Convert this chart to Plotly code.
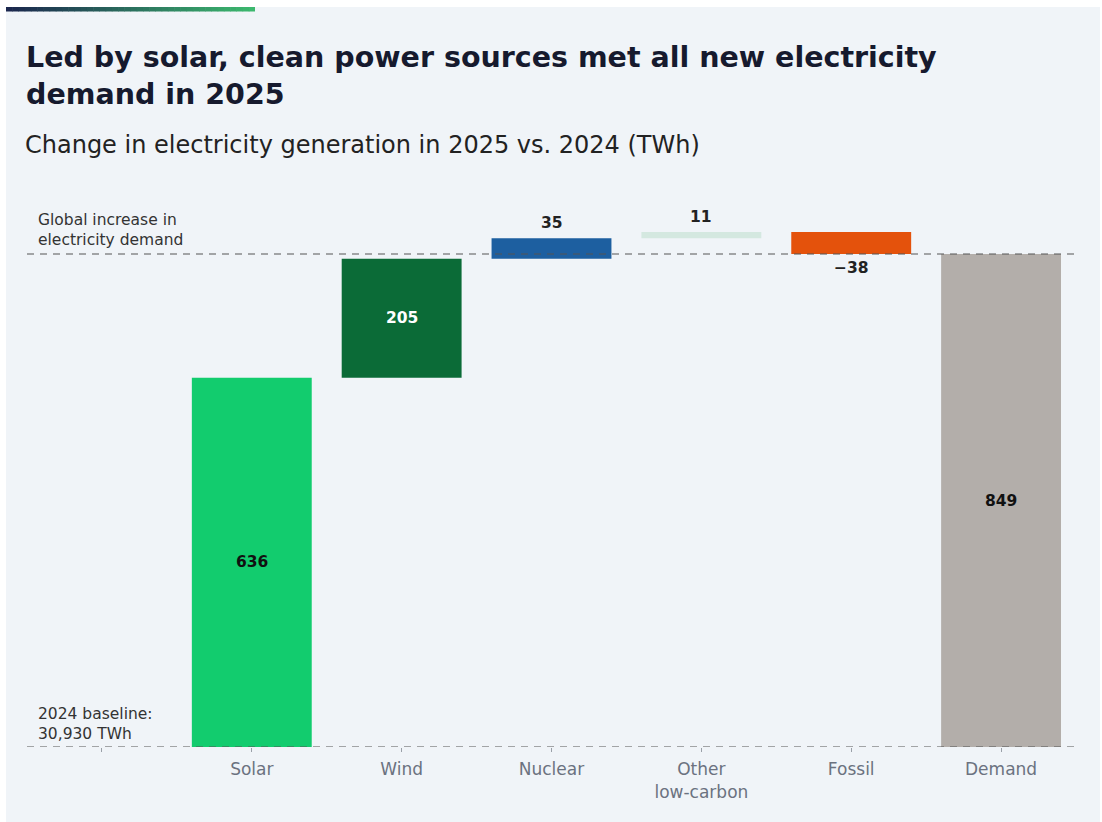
import plotly.graph_objects as go

# ---- data ----
categories = ["Solar", "Wind", "Nuclear", "Other<br>low-carbon", "Fossil", "Demand"]
changes = [636, 205, 35, 11, -38, 849]
is_total = [False, False, False, False, False, True]
bar_colors = ["#12CC6E", "#0B6B37", "#1D5FA0", "#D4E8E0", "#E4520C", "#B3AEAA"]
label_colors = ["#111111", "#FFFFFF", "#222222", "#222222", "#222222", "#111111"]
label_pos = ["inside", "inside", "above", "above", "below", "inside"]
baseline_text = "2024 baseline:<br>30,930 TWh"
demand_text = "Global increase in<br>electricity demand"

# ---- layout geometry (pixels) ----
W, H = 1102, 822
ML, MR, MT, MB = 27, 26, 200, 75
PW, PH = W - ML - MR, H - MT - MB
YMAX = 942

def px(x):
    return (x - ML) / PW

def py(y):
    return (H - MB - y) / PH

# compute bases
bases, heights = [], []
run = 0
for v, tot in zip(changes, is_total):
    if tot:
        bases.append(0)
        heights.append(v)
    else:
        if v >= 0:
            bases.append(run)
            heights.append(v)
        else:
            bases.append(run + v)
            heights.append(-v)
        run += v

xs = list(range(1, len(categories) + 1))

fig = go.Figure()
fig.add_trace(go.Bar(
    x=xs, y=heights, base=bases, width=0.8,
    marker=dict(color=bar_colors, line=dict(width=0)),
    hoverinfo="skip", showlegend=False,
))

LBL_FONT = "DejaVu Sans"
annotations = []
for x, b, h, v, c, pos in zip(xs, bases, heights, changes, label_colors, label_pos):
    txt = f"{v:,}".replace("-", "\u2212") if v < 0 else f"{v:,}"
    f = dict(size=15.5, color=c, family=LBL_FONT)
    if pos == "inside":
        annotations.append(dict(x=x, y=b + h / 2, text=f"<b>{txt}</b>", showarrow=False,
                                font=f, xref="x", yref="y"))
    elif pos == "above":
        annotations.append(dict(x=x, y=b + h, text=f"<b>{txt}</b>", showarrow=False,
                                yanchor="bottom", yshift=4, font=f, xref="x", yref="y"))
    else:
        annotations.append(dict(x=x, y=b, text=f"<b>{txt}</b>", showarrow=False,
                                yanchor="top", yshift=-3, font=f, xref="x", yref="y"))

total = changes[-1]
annotations += [
    dict(x=px(36), y=total, xref="paper", yref="y", xanchor="left", yanchor="bottom",
         yshift=3, align="left", showarrow=False, text=demand_text,
         font=dict(size=15.5, color="#333333", family="DejaVu Sans")),
    dict(x=px(36), y=0, xref="paper", yref="y", xanchor="left", yanchor="bottom",
         yshift=2, align="left", showarrow=False, text=baseline_text,
         font=dict(size=15.5, color="#333333", family="DejaVu Sans")),
    dict(x=px(24), y=py(76), xref="paper", yref="paper", xanchor="left", yanchor="middle",
         align="left", showarrow=False,
         text="<b>Led by solar, clean power sources met all new electricity<br>demand in 2025</b>",
         font=dict(size=28.5, color="#161A2E", family="DejaVu Sans")),
    dict(x=px(23), y=py(145), xref="paper", yref="paper", xanchor="left", yanchor="middle",
         align="left", showarrow=False,
         text="Change in electricity generation in 2025 vs. 2024 (TWh)",
         font=dict(size=24, color="#222222", family="DejaVu Sans")),
]

shapes = [
    # white outer border
    dict(type="rect", xref="paper", yref="paper", x0=px(0), x1=px(6), y0=py(822), y1=py(0),
         fillcolor="white", line=dict(width=0), layer="below"),
    dict(type="rect", xref="paper", yref="paper", x0=px(0), x1=px(1102), y0=py(7), y1=py(0),
         fillcolor="white", line=dict(width=0), layer="below"),
    dict(type="rect", xref="paper", yref="paper", x0=px(1100), x1=px(1102), y0=py(822), y1=py(0),
         fillcolor="white", line=dict(width=0), layer="below"),
    # dashed reference lines
    dict(type="line", xref="paper", yref="y", x0=0, x1=1, y0=total, y1=total,
         line=dict(color="#555555", width=1.2, dash="7px,6px"), layer="above"),
    dict(type="line", xref="paper", yref="y", x0=0, x1=1, y0=0, y1=0,
         line=dict(color="#555555", width=1.2, dash="7px,6px"), layer="above"),
]

# gradient accent bar at top
n = 40
c0 = (0x1B, 0x27, 0x4E)
c1 = (0x3C, 0xB8, 0x6E)
x_start, x_end = 6, 255
for i in range(n):
    t = i / (n - 1)
    col = "rgb(%d,%d,%d)" % tuple(int(a + (b - a) * t) for a, b in zip(c0, c1))
    xa = x_start + (x_end - x_start) * i / n
    xb = x_start + (x_end - x_start) * (i + 1) / n + 0.6
    shapes.append(dict(type="rect", xref="paper", yref="paper", x0=px(xa), x1=px(min(xb, x_end)),
                       y0=py(11.5), y1=py(7), fillcolor=col, line=dict(width=0)))

fig.update_layout(
    width=W, height=H,
    margin=dict(l=ML, r=MR, t=MT, b=MB, pad=0),
    paper_bgcolor="#F0F4F8", plot_bgcolor="rgba(0,0,0,0)",
    xaxis=dict(range=[-0.5, len(categories) + 0.5], tickmode="array",
               tickvals=[0] + xs, ticktext=[""] + categories,
               showgrid=False, zeroline=False, showline=False,
               ticks="outside", ticklen=4, tickcolor="#9AA0A8", tickwidth=1,
               ticklabelstandoff=3,
               tickfont=dict(size=17, color="#6B7280", family="DejaVu Sans"),
               fixedrange=True),
    yaxis=dict(range=[0, YMAX], visible=False, fixedrange=True),
    annotations=annotations, shapes=shapes,
    bargap=0.2,
)

fig.write_html("out.html")
